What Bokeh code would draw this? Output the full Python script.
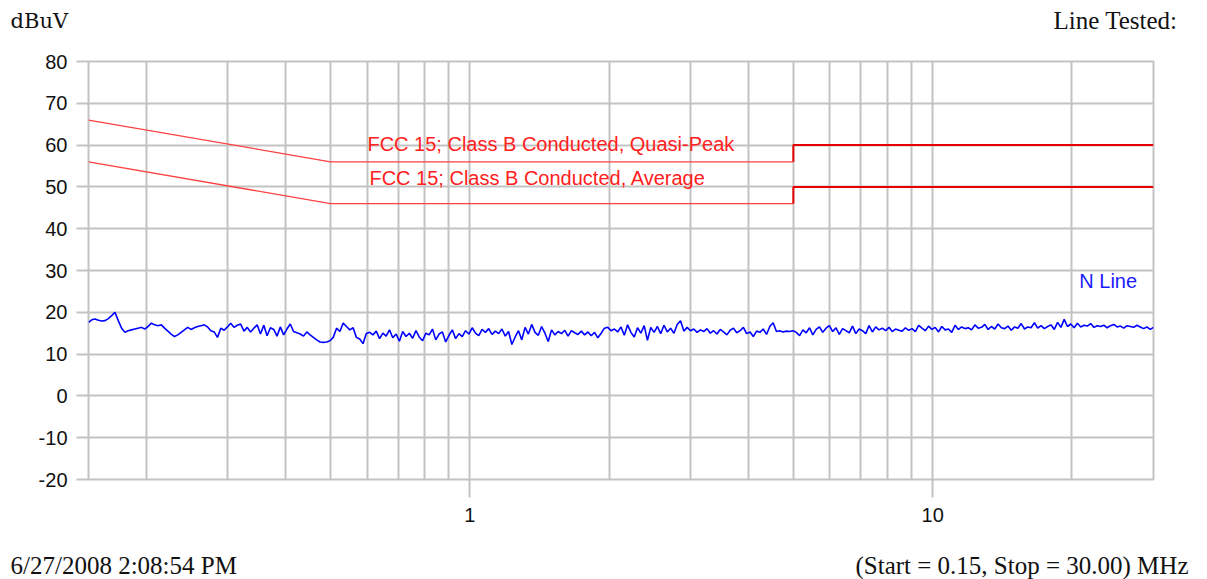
import numpy as np
from bokeh.plotting import figure
from bokeh.layouts import column
from bokeh.models import Range1d, FixedTicker, Label, SingleIntervalTicker
from bokeh.core.properties import value
from bokeh.embed import file_html
from bokeh.resources import INLINE

# ---------------- data ----------------
START_MHZ = 0.15
STOP_MHZ = 30.0

qp_freq_lo = [0.15, 0.5, 5.0]
qp_lvl_lo = [66, 56, 56]
qp_freq_hi = [5.0, 5.0, 30.0]
qp_lvl_hi = [56, 60, 60]

avg_freq_lo = [0.15, 0.5, 5.0]
avg_lvl_lo = [56, 46, 46]
avg_freq_hi = [5.0, 5.0, 30.0]
avg_lvl_hi = [46, 50, 50]

n_line_levels = [
    17.6, 18.2, 18.4, 18.1, 17.9, 18.0, 18.5, 19.2, 20.0, 18.0, 16.2, 15.2, 15.6,
    15.8, 16.0, 16.2, 16.4, 16.0, 16.6, 17.4, 17.0, 16.8, 17.0, 16.2, 15.5, 14.8, 14.2,
    14.6, 15.2, 15.8, 16.4, 15.9, 16.3, 16.6, 16.8, 17.0, 16.5, 15.6,
    15.3, 14.0, 16.2, 15.7, 16.5, 17.4, 16.4, 16.9, 17.2, 15.5, 16.4, 15.3,
    16.2, 17.0, 14.8, 16.9, 14.4, 16.3, 15.9, 14.3, 16.5, 14.6, 16.0, 17.2,
    15.4, 15.1, 14.8, 14.3, 15.3, 14.6, 14.0, 13.4, 12.9, 12.8, 12.9, 13.2,
    14.0, 16.2, 15.4, 17.4, 16.6, 15.8, 16.3, 14.0, 13.6, 12.5, 14.9, 15.2,
    14.6, 15.5, 13.7, 15.0, 14.3, 15.8, 13.9, 14.8, 13.1, 15.4, 14.2, 15.0,
    13.8, 15.6, 14.1, 13.2, 15.0, 14.6, 16.0, 13.4, 14.8, 15.3, 12.9, 14.5, 15.8, 13.7, 14.9,
    14.2, 15.6, 14.8, 16.3, 15.0, 14.4, 15.9, 15.2, 16.1, 14.7, 15.5, 14.9,
    16.0, 14.3, 15.4, 12.3, 14.1, 15.6, 13.4, 16.4, 14.8, 17.1, 15.2, 14.5,
    16.6, 15.0, 13.0, 15.8, 14.6, 15.4, 14.9, 15.7, 14.3, 15.6, 15.1, 14.7,
    15.5, 14.6, 15.3, 14.4, 15.2, 13.9, 15.0, 16.2, 16.4, 15.6, 16.0, 15.3,
    16.5, 14.5, 17.0, 15.2, 14.1, 16.3, 15.0, 16.8, 13.3, 16.4, 15.2, 16.6,
    14.9, 16.9, 15.3, 16.2, 15.0, 17.1, 18.0, 15.5, 16.4, 15.6, 16.0, 15.2,
    15.8, 15.4, 16.1, 15.0, 15.6, 14.8, 15.9, 15.3, 14.6, 15.7, 16.2, 15.1,
    15.6, 16.4, 14.9, 15.3, 14.2, 15.5, 15.2, 16.0, 14.7, 16.6, 17.5, 15.4,
    15.6, 15.3, 15.5, 15.4, 15.6, 15.2, 14.4, 15.8, 15.1, 16.3, 14.6, 15.9,
    16.5, 15.2, 16.2, 16.8, 15.4, 16.3, 14.7, 16.1, 15.6, 15.1, 16.7, 14.9, 16.0,
    15.6, 14.9, 16.8, 15.3, 16.5, 15.8, 16.2, 15.6, 16.4, 15.4, 16.0, 15.7,
    15.5, 16.3, 15.7, 16.1, 15.4, 16.9, 16.2, 15.6, 16.7, 15.9, 16.4, 15.3,
    16.6, 15.8, 16.0, 15.2, 16.9, 15.9, 16.5, 16.1, 16.3, 15.8, 17.0, 16.2,
    16.4, 17.1, 15.9, 16.6, 16.0, 17.2, 16.3, 16.1, 16.7, 15.7, 16.5, 16.2,
    17.3, 16.0, 16.5, 16.3, 17.5, 16.2, 16.8, 16.1, 16.6, 17.0, 15.9, 17.6,
    16.4, 18.3, 16.6, 17.2, 16.3, 17.4, 16.5, 16.9, 16.7, 17.3, 16.4, 16.8,
    16.6, 16.9, 16.3, 16.8, 17.1, 16.5, 16.7, 16.2, 16.8, 16.6, 16.4, 16.9, 16.5, 16.1, 16.5, 15.9, 16.4,
]
# sweep frequencies: log-spaced sweep points between start and stop
n_line_freq = np.geomspace(START_MHZ, STOP_MHZ, len(n_line_levels))

x_labeled_ticks = [1, 10]
x_grid_ticks = [0.15, 0.2, 0.3, 0.4, 0.5, 0.6, 0.7, 0.8, 0.9, 1,
                2, 3, 4, 5, 6, 7, 8, 9, 10, 20, 30]

header_texts = ["dBuV", "Line Tested:"]
footer_texts = ["6/27/2008 2:08:54 PM", "(Start = 0.15, Stop = 30.00) MHz"]

# ------------- layout constants (page pixels) -------------
W = 1199
TOP_H = 50
MAIN_H = 480
BOT_H = 49
GRID = "#c3c3c3"
SERIF = "Liberation Serif"
SANS = "Liberation Sans"


def strip(height):
    f = figure(width=W, height=height, x_range=Range1d(0, W), y_range=Range1d(0, height),
               output_backend="svg", toolbar_location=None,
               min_border=0, min_border_left=0, min_border_right=0,
               min_border_top=0, min_border_bottom=0)
    f.axis.visible = False
    f.grid.visible = False
    f.outline_line_color = None
    f.background_fill_color = "white"
    f.border_fill_color = "white"
    if "frame_align" in f.properties():
        f.frame_align = False
    return f


# header strip
top = strip(TOP_H)
top.text(x=[10], y=[TOP_H - 20], text=[header_texts[0]], text_font=value("DejaVu Serif"),
         text_font_size="21px", text_color="#111111", text_baseline="middle",
         text_align="left")
top.text(x=[1177], y=[TOP_H - 20], text=[header_texts[1]], text_font=value(SERIF),
         text_font_size="25px", text_color="#111111", text_baseline="middle",
         text_align="right")

# main chart
p = figure(width=W, height=MAIN_H, x_axis_type="log",
           x_range=Range1d(START_MHZ, STOP_MHZ), y_range=Range1d(-20, 80),
           output_backend="svg", toolbar_location=None,
           min_border_left=88, min_border_right=W - 1153,
           min_border_top=61 - TOP_H, min_border_bottom=TOP_H + MAIN_H - 479)
p.background_fill_color = "white"
p.border_fill_color = "white"
p.outline_line_color = GRID
p.outline_line_width = 2
if "frame_align" in p.properties():
    p.frame_align = False

p.xaxis.ticker = FixedTicker(ticks=x_labeled_ticks, minor_ticks=[])
p.xgrid.ticker = FixedTicker(ticks=x_grid_ticks)
p.yaxis.ticker = SingleIntervalTicker(interval=10)
p.ygrid.ticker = SingleIntervalTicker(interval=10)
for g in (p.xgrid, p.ygrid):
    g.grid_line_color = GRID
    g.grid_line_width = 2

for ax in (p.xaxis, p.yaxis):
    ax.axis_line_color = None
    ax.major_tick_line_color = GRID
    ax.major_tick_line_width = 2
    ax.major_tick_in = 0
    ax.minor_tick_line_color = None
    ax.major_label_text_font = SANS
    ax.major_label_text_font_size = "20px"
    ax.major_label_text_color = "#111111"
p.xaxis.major_tick_out = 18
p.yaxis.major_tick_out = 12
p.xaxis.major_label_standoff = 10
p.yaxis.major_label_standoff = 9
p.xaxis.major_label_overrides = {1: "1", 10: "10"}
p.yaxis.major_label_overrides = {-20: "-20", -10: "-10"}

# limit lines
p.line(qp_freq_lo, qp_lvl_lo, line_color="#ff4040", line_width=1.3)
p.line(qp_freq_hi, qp_lvl_hi, line_color="#e60000", line_width=2)
p.line(avg_freq_lo, avg_lvl_lo, line_color="#ff4040", line_width=1.3)
p.line(avg_freq_hi, avg_lvl_hi, line_color="#e60000", line_width=2)

# measured line
p.line(n_line_freq, n_line_levels, line_color="#0000ff", line_width=1.6)

# helpers page pixel -> data for in-plot labels
def fx(px):
    return 10 ** ((px - 469.0) / 461.0)

def fy(py):
    return (479.0 - py) / 4.18 - 20.0

p.add_layout(Label(x=fx(367), y=fy(143), text="FCC 15; Class B Conducted, Quasi-Peak",
                   text_font=SANS, text_font_size="20px",
                   text_color="#ff2020", text_baseline="middle", text_align="left"))
p.add_layout(Label(x=fx(369), y=fy(177), text="FCC 15; Class B Conducted, Average",
                   text_font=SANS, text_font_size="20px",
                   text_color="#ff2020", text_baseline="middle", text_align="left"))
p.add_layout(Label(x=fx(1076), y=fy(280), text="N Line",
                   text_font=SANS, text_font_size="20px",
                   text_color="#1a1aff", text_baseline="middle", text_align="left"))

# footer strip
bot = strip(BOT_H)
bot.text(x=[10], y=[TOP_H + MAIN_H + BOT_H - 565], text=[footer_texts[0]],
         text_font=value(SERIF), text_font_size="25px", text_color="#111111",
         text_baseline="middle", text_align="left")
bot.text(x=[1188], y=[TOP_H + MAIN_H + BOT_H - 565], text=[footer_texts[1]],
         text_font=value(SERIF), text_font_size="25px", text_color="#111111",
         text_baseline="middle", text_align="right")

layout = column(top, p, bot, spacing=0)
open("out.html", "w").write(file_html(layout, INLINE))
